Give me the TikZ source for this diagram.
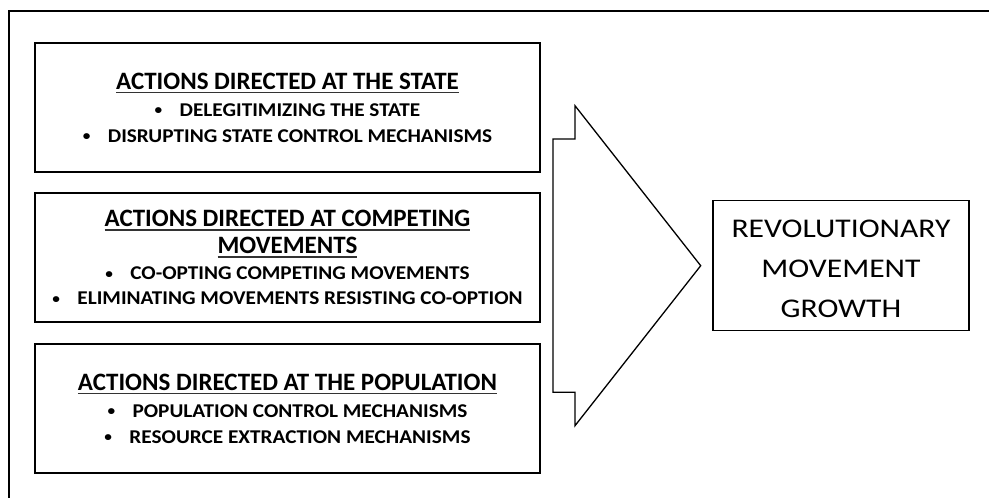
\documentclass[tikz,border=0pt]{standalone}
\usepackage{fontspec}
\setmainfont{Carlito}
\newfontfamily\bodyfont[FakeStretch=1.09]{Carlito}
\newfontfamily\bigfont[FakeStretch=1.17]{Carlito}
\newcommand\titlefont{\rmfamily\bfseries\fontsize{25}{26}\selectfont}
\newsavebox\ttlbox
\newcommand\ttl[1]{\sbox\ttlbox{#1}\rlap{\color{black!80}\rule[-3.8pt]{\wd\ttlbox}{1.3pt}}\usebox\ttlbox}
\newcommand\bul{\makebox[25pt][l]{\raisebox{1.6pt}{\fontsize{14}{14}\selectfont\textbullet}}}
\begin{document}
\begin{tikzpicture}[x=1pt,y=-1pt,
  actbox/.style={draw, line width=1.9pt, minimum width=505pt, minimum height=129pt,
    align=center, inner sep=0pt, font=\bodyfont\bfseries\fontsize{19.5}{26}\selectfont},
  resbox/.style={draw, line width=1.3pt, minimum width=256pt, minimum height=130pt,
    align=center, inner sep=0pt, font=\bigfont\fontsize{27}{40}\selectfont},
  bigarrow/.style={draw, line width=1.3pt, line join=miter}]
\useasboundingbox (0,0) rectangle (989,498);
\draw[line width=1.9pt] (9.3,498) -- (9.3,11) -- (989,11);

\node[actbox] (state) at (287.5,107.8) {{\titlefont\ttl{ACTIONS DIRECTED AT THE STATE}}\\[0.7pt]
  \bul DELEGITIMIZING THE STATE\\
  \bul DISRUPTING STATE CONTROL MECHANISMS};

\node[actbox] (comp) at (287.5,257.7) {{\titlefont\ttl{ACTIONS DIRECTED AT COMPETING}}\\[1pt]
  {\titlefont\ttl{MOVEMENTS}}\\[0pt]
  \bul CO-OPTING COMPETING MOVEMENTS\\[-1pt]
  \bul ELIMINATING MOVEMENTS RESISTING CO-OPTION};

\node[actbox] (pop) at (287.5,408.8) {{\titlefont\ttl{ACTIONS DIRECTED AT THE POPULATION}}\\[0.7pt]
  \bul POPULATION CONTROL MECHANISMS\\
  \bul RESOURCE EXTRACTION MECHANISMS};

\node[resbox] (growth) at (841,265.7) {};
\node[font=\bigfont\fontsize{27}{40}\selectfont, align=center, inner sep=0pt]
  (growthtext) at ([yshift=-3pt]growth.center) {REVOLUTIONARY\\MOVEMENT\\GROWTH};

\coordinate (tip) at (700.7,265.7);
\draw[bigarrow] (553,139) -- (575,139) -- (575,105.7) -- (tip)
  -- (575,425.7) -- (575,392.3) -- (553,392.3) -- cycle;
\end{tikzpicture}
\end{document}
